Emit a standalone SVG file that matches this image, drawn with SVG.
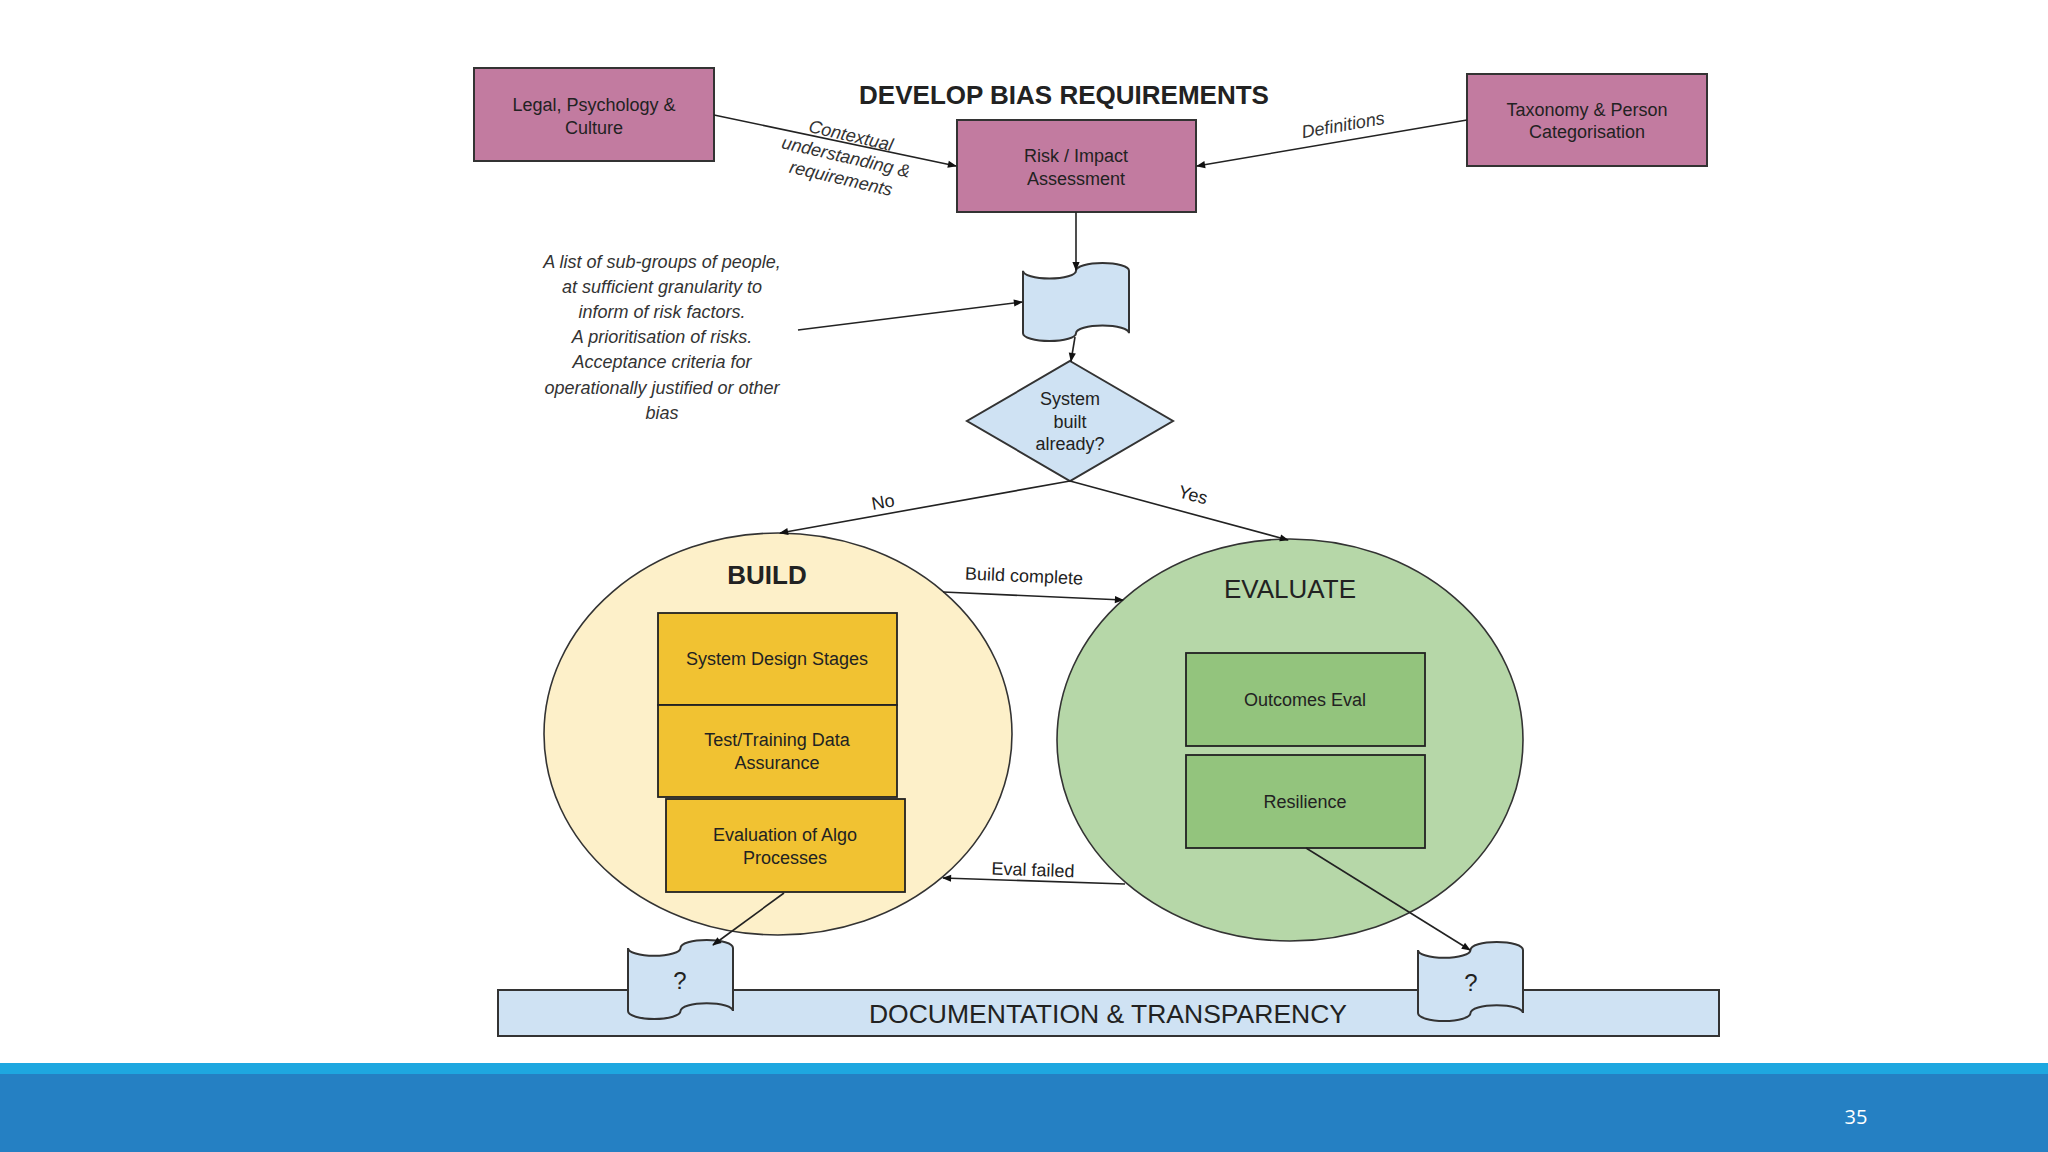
<svg xmlns="http://www.w3.org/2000/svg" width="2048" height="1152" viewBox="0 0 2048 1152">
<defs>
<marker id="arr" viewBox="0 0 10 10" refX="9" refY="5" markerWidth="10" markerHeight="9" markerUnits="userSpaceOnUse" orient="auto">
<path d="M0,1 L10,5 L0,9 Z" fill="#111"/>
</marker>
</defs>
<style>
text{font-family:"Liberation Sans",Arial,sans-serif;fill:#222;}
.lbl{font-size:18px;text-anchor:middle;}
.it{font-size:18px;font-style:italic;text-anchor:middle;fill:#333;}
.pink{fill:#c27ba0;stroke:#333;stroke-width:2;}
.yel{fill:#f1c232;stroke:#222;stroke-width:1.8;}
.grn{fill:#93c47d;stroke:#222;stroke-width:1.8;}
.blue{fill:#cfe2f3;stroke:#333;stroke-width:2;}
.edge{fill:none;stroke:#222;stroke-width:1.6;marker-end:url(#arr);}
.line{fill:none;stroke:#222;stroke-width:1.6;}
</style>
<rect x="0" y="0" width="2048" height="1152" fill="#ffffff"/>

<text x="1064" y="104" font-size="26" font-weight="bold" text-anchor="middle" fill="#111">DEVELOP BIAS REQUIREMENTS</text>

<g id="documentation">
<rect x="498" y="990" width="1221" height="46" class="blue"/>
<text x="1108" y="1023" font-size="26.5" text-anchor="middle">DOCUMENTATION &amp; TRANSPARENCY</text>
</g>

<g id="legal">
<rect x="474" y="68" width="240" height="93" class="pink"/>
<text class="lbl" x="594" y="111">Legal, Psychology &amp;</text>
<text class="lbl" x="594" y="134">Culture</text>
</g>

<g id="risk">
<rect x="957" y="120" width="239" height="92" class="pink"/>
<text class="lbl" x="1076" y="162">Risk / Impact</text>
<text class="lbl" x="1076" y="185">Assessment</text>
</g>

<g id="taxonomy">
<rect x="1467" y="74" width="240" height="92" class="pink"/>
<text class="lbl" x="1587" y="116">Taxonomy &amp; Person</text>
<text class="lbl" x="1587" y="138">Categorisation</text>
</g>

<g id="requirements-note">
<text class="it" x="662" y="268">A list of sub-groups of people,</text>
<text class="it" x="662" y="293">at sufficient granularity to</text>
<text class="it" x="662" y="318">inform of risk factors.</text>
<text class="it" x="662" y="343">A prioritisation of risks.</text>
<text class="it" x="662" y="368">Acceptance criteria for</text>
<text class="it" x="662" y="394">operationally justified or other</text>
<text class="it" x="662" y="419">bias</text>
</g>

<g id="requirements-doc">
<path class="blue" d="M1023,270.8 A26.5,7.8 0 0 0 1076,270.8 A26.5,7.8 0 0 1 1129,270.8 L1129,333.2 A26.5,7.8 0 0 0 1076,333.2 A26.5,7.8 0 0 1 1023,333.2 Z"/>
</g>

<g id="decision">
<polygon points="1070,361 1173,421 1070,481 967,421" class="blue"/>
<text class="lbl" x="1070" y="405">System</text>
<text class="lbl" x="1070" y="428">built</text>
<text class="lbl" x="1070" y="450">already?</text>
</g>

<g id="build">
<ellipse cx="778" cy="734" rx="234" ry="201" fill="#fdf0c9" stroke="#333" stroke-width="1.6"/>
<text x="767" y="584" font-size="26" font-weight="bold" text-anchor="middle" fill="#111">BUILD</text>
</g>
<g id="system-design">
<rect x="658" y="613" width="239" height="92" class="yel"/>
<text class="lbl" x="777" y="665">System Design Stages</text>
</g>
<g id="data-assurance">
<rect x="658" y="705" width="239" height="92" class="yel"/>
<text class="lbl" x="777" y="746">Test/Training Data</text>
<text class="lbl" x="777" y="769">Assurance</text>
</g>
<g id="algo-eval">
<rect x="666" y="799" width="239" height="93" class="yel"/>
<text class="lbl" x="785" y="841">Evaluation of Algo</text>
<text class="lbl" x="785" y="864">Processes</text>
</g>

<g id="evaluate">
<ellipse cx="1290" cy="740" rx="233" ry="201" fill="#b6d7a8" stroke="#333" stroke-width="1.6"/>
<text x="1290" y="598" font-size="26" text-anchor="middle" fill="#1a2a14">EVALUATE</text>
</g>
<g id="outcomes">
<rect x="1186" y="653" width="239" height="93" class="grn"/>
<text class="lbl" x="1305" y="706">Outcomes Eval</text>
</g>
<g id="resilience">
<rect x="1186" y="755" width="239" height="93" class="grn"/>
<text class="lbl" x="1305" y="808">Resilience</text>
</g>

<g id="doc-left">
<path class="blue" d="M628,947.9 A26.25,7.9 0 0 0 680.5,947.9 A26.25,7.9 0 0 1 733,947.9 L733,1011.1 A26.25,7.9 0 0 0 680.5,1011.1 A26.25,7.9 0 0 1 628,1011.1 Z"/>
<text x="680" y="989" font-size="24" text-anchor="middle">?</text>
</g>
<g id="doc-right">
<path class="blue" d="M1418,949.9 A26.25,7.9 0 0 0 1470.5,949.9 A26.25,7.9 0 0 1 1523,949.9 L1523,1013.1 A26.25,7.9 0 0 0 1470.5,1013.1 A26.25,7.9 0 0 1 1418,1013.1 Z"/>
<text x="1471" y="991" font-size="24" text-anchor="middle">?</text>
</g>

<g id="connectors">
<line class="edge" x1="714" y1="115" x2="956" y2="166"/>
<line class="edge" x1="1467" y1="120" x2="1197" y2="166"/>
<line class="edge" x1="1076" y1="212" x2="1076" y2="270"/>
<line class="edge" x1="798" y1="330" x2="1022" y2="302"/>
<line class="edge" x1="1075" y1="337" x2="1071" y2="361"/>
<line class="edge" x1="1070" y1="481" x2="780" y2="533"/>
<line class="edge" x1="1070" y1="481" x2="1288" y2="540"/>
<line class="edge" x1="943" y1="592" x2="1123" y2="600"/>
<line class="edge" x1="1125" y1="884" x2="943" y2="878"/>
<line class="edge" x1="784" y1="893" x2="713" y2="945"/>
<line class="edge" x1="1306" y1="848" x2="1470" y2="950"/>
<g transform="rotate(13 846 157)">
<text class="it" x="846" y="141" font-size="19">Contextual</text>
<text class="it" x="846" y="163" font-size="19">understanding &amp;</text>
<text class="it" x="846" y="185" font-size="19">requirements</text>
</g>
<text class="it" transform="rotate(-10 1343 125)" x="1343" y="131" font-size="19">Definitions</text>
<text class="lbl" transform="rotate(-10 883 502)" x="883" y="508">No</text>
<text class="lbl" transform="rotate(15 1193 495)" x="1193" y="501">Yes</text>
<text class="lbl" transform="rotate(2.5 1024 576)" x="1024" y="582">Build complete</text>
<text class="lbl" transform="rotate(2 1033 870)" x="1033" y="876">Eval failed</text>
</g>

<g id="footer">
<rect x="0" y="1063" width="2048" height="11" fill="#1ea7e0"/>
<rect x="0" y="1074" width="2048" height="78" fill="#2580c3"/>
<text x="1856" y="1124" font-size="20" text-anchor="middle" style="font-family:'Open Sans','Liberation Sans',sans-serif;fill:#ffffff">35</text>
</g>
</svg>
